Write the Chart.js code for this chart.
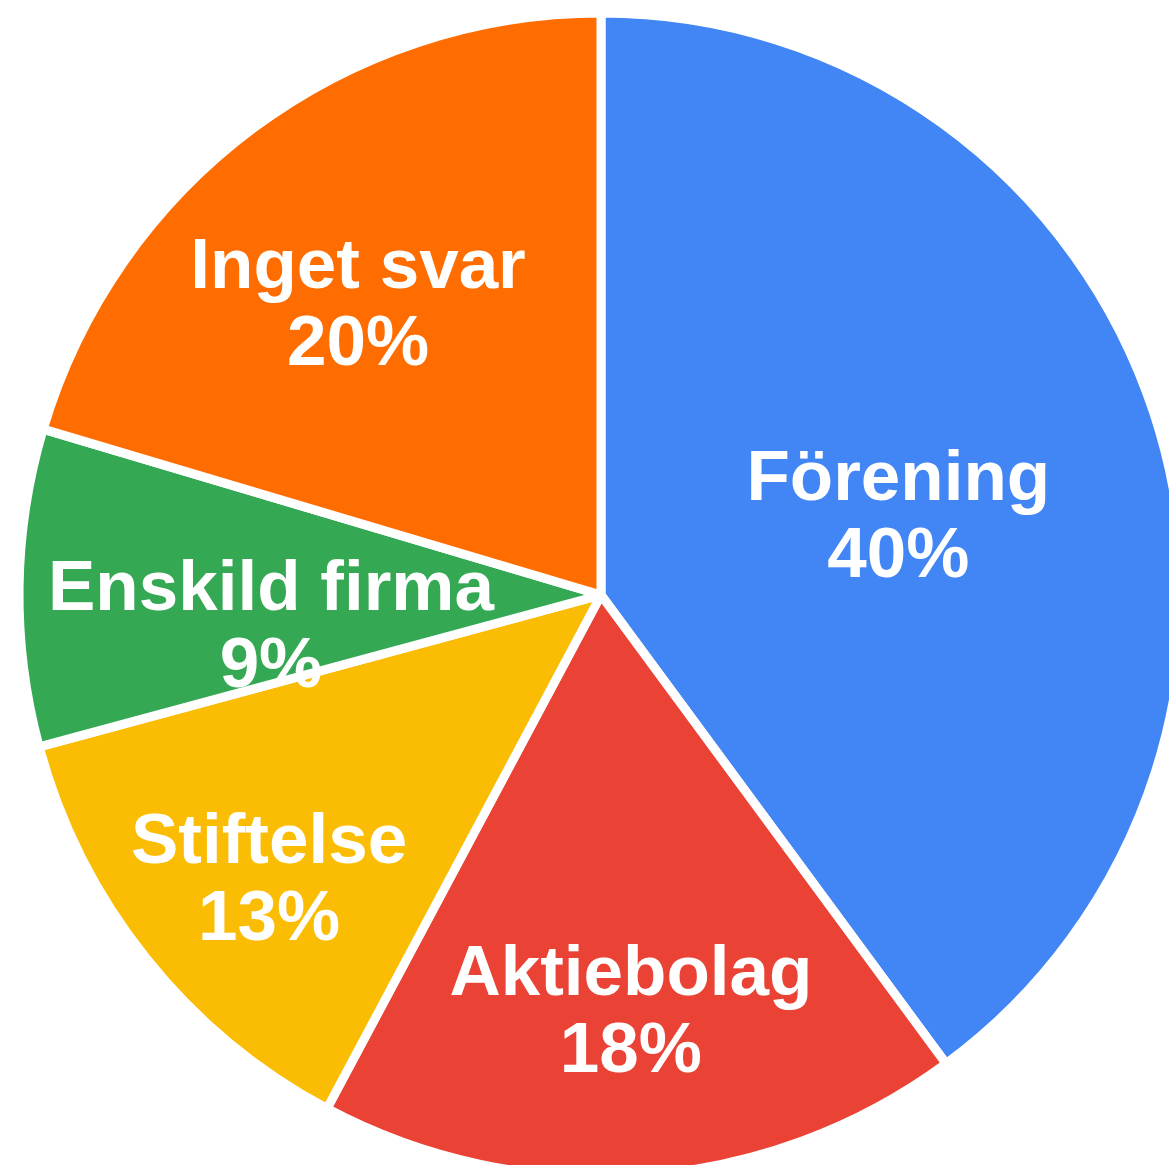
<!DOCTYPE html>
<html>
<head>
<meta charset="utf-8">
<script src="https://cdn.jsdelivr.net/npm/chart.js@4/dist/chart.umd.min.js"></script>
<style>
  html, body { margin: 0; padding: 0; background: #fff; overflow: hidden; }
  #wrap { width: 1169px; height: 1165px; }
</style>
</head>
<body>
<div id="wrap"><canvas id="pieChart" width="1169" height="1165"></canvas></div>
<script>
// Data (share of answers, %)
const categories = ['Förening', 'Aktiebolag', 'Stiftelse', 'Enskild firma', 'Inget svar'];
const shares = [39.9, 17.9, 13.0, 8.8, 20.4];
const sliceColors = ['#4285F4', '#EA4335', '#FBBC04', '#34A853', '#FF6D01'];

// Label placement per slice: distance as fraction of radius, and angle nudge (deg)
const labelRadius = [0.530, 0.711, 0.747, 0.569, 0.656];
const labelNudge = [2.7, 0, -1.7, -5.4, -2.8];

// Draws "name / pct%" inside each slice
const sliceLabels = {
    id: 'sliceLabels',
    afterDatasetsDraw(chart, args, opts) {
        const ctx = chart.ctx;
        const meta = chart.getDatasetMeta(0);
        const data = chart.data.datasets[0].data;
        const total = data.reduce((a, b) => a + b, 0);

        ctx.save();
        ctx.fillStyle = '#ffffff';
        ctx.font = 'bold 71px "Liberation Sans", Arial, sans-serif';
        ctx.textAlign = 'center';
        ctx.textBaseline = 'alphabetic';

        meta.data.forEach((arc, i) => {
            const mid = (arc.startAngle + arc.endAngle) / 2 + opts.nudge[i] * Math.PI / 180;
            const r = arc.outerRadius * opts.radius[i];
            const x = arc.x + Math.cos(mid) * r;
            const y = arc.y + Math.sin(mid) * r;
            const pct = Math.round(data[i] / total * 100) + '%';
            // y is the middle of the two cap-height lines
            ctx.fillText(chart.data.labels[i], x, y - 38.5 + 26);
            ctx.fillText(pct, x, y + 38.5 + 26);
        });
        ctx.restore();
    }
};

new Chart(document.getElementById('pieChart').getContext('2d'), {
    type: 'pie',
    data: {
        labels: categories,
        datasets: [{
            data: shares,
            backgroundColor: sliceColors,
            borderColor: '#ffffff',
            borderWidth: 9,
            hoverOffset: 0,
            clip: false
        }]
    },
    options: {
        responsive: false,
        animation: false,
        radius: 582,
        layout: { padding: { left: 33, top: 25, right: 0, bottom: 0 } },
        plugins: {
            legend: { display: false },
            tooltip: { enabled: false },
            sliceLabels: { radius: labelRadius, nudge: labelNudge }
        }
    },
    plugins: [sliceLabels]
});
</script>
</body>
</html>
